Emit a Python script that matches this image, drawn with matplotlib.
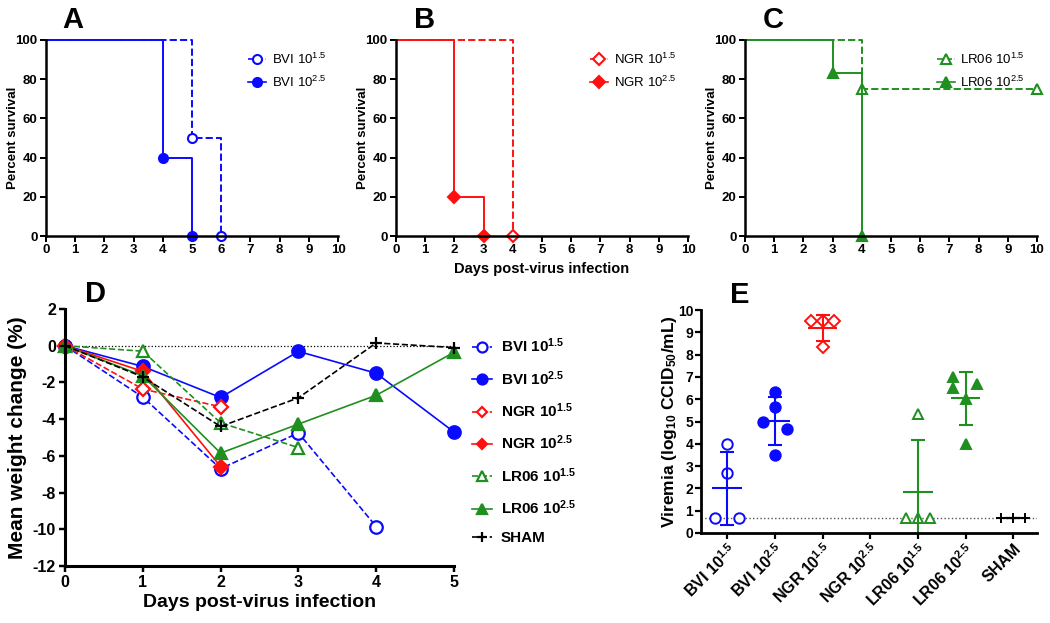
import numpy as np
import matplotlib.pyplot as plt
from matplotlib.lines import Line2D

plt.rcParams['font.family'] = ['Liberation Sans', 'DejaVu Sans']
plt.rcParams['mathtext.fontset'] = 'custom'
plt.rcParams['mathtext.rm'] = 'Liberation Sans'
plt.rcParams['mathtext.bf'] = 'Liberation Sans:bold'
plt.rcParams['mathtext.it'] = 'Liberation Sans:italic'
plt.rcParams['axes.unicode_minus'] = False

BLUE = '#0a0aff'
RED = '#ff1010'
GREEN = '#1f8f1f'

# --- survival curves (A-C): step times and percent survival ---
bvi_lo_t, bvi_lo_s = [0, 5, 6], [100, 50, 0]
bvi_hi_t, bvi_hi_s = [0, 4, 5], [100, 40, 0]
ngr_lo_t, ngr_lo_s = [0, 4], [100, 0]
ngr_hi_t, ngr_hi_s = [0, 2, 3], [100, 20, 0]
lr_lo_t, lr_lo_s = [0, 4, 10], [100, 75, 75]
lr_hi_t, lr_hi_s = [0, 3, 4], [100, 83.3, 0]

# --- weight change (D) ---
w_bvi_lo = [0, -2.8, -6.7, -4.75, -9.85]
w_bvi_hi = [0, -1.13, -2.82, -0.31, -1.5, -4.7]
w_ngr_lo = [0, -2.36, -3.33]
w_ngr_hi = [0, -1.4, -6.58]
w_lr_lo = [0, -0.3, -4.2, -5.55]
w_lr_hi = [0, -1.64, -5.85, -4.27, -2.7, -0.36]
w_sham = [0, -1.7, -4.4, -2.84, 0.15, -0.1]

# --- viremia (E) ---
groups = ['BVI 10$^{\\mathbf{1.5}}$', 'BVI 10$^{\\mathbf{2.5}}$', 'NGR 10$^{\\mathbf{1.5}}$',
          'NGR 10$^{\\mathbf{2.5}}$', 'LR06 10$^{\\mathbf{1.5}}$', 'LR06 10$^{\\mathbf{2.5}}$', 'SHAM']
v_bvi_lo = [4.0, 2.67, 0.67, 0.67]
v_bvi_hi = [6.33, 5.67, 5.0, 4.67, 3.5]
v_ngr_lo = [9.5, 9.5, 9.5, 8.33]
v_ngr_hi = []
v_lr_lo = [5.33, 0.67, 0.67, 0.67]
v_lr_hi = [7.0, 6.5, 6.67, 6.0, 4.0]
v_sham = [0.67, 0.67, 0.67]
detect_limit = 0.67
# horizontal scatter spread of the points inside each column
jitter = [[0, 0, -0.25, 0.25], [0, 0, -0.25, 0.25, 0], [-0.25, 0, 0.25, 0], [],
          [0, -0.25, 0, 0.25], [-0.27, -0.27, 0.25, 0, 0], [-0.25, 0, 0.25]]

W, H = 1050, 623
fig = plt.figure(figsize=(W / 100, H / 100), dpi=100)


def px_axes(l, t, r, b):
    return fig.add_axes([l / W, 1 - b / H, (r - l) / W, (b - t) / H])


def letter(x, y, s):
    # panel letter, x = left edge, y = baseline, in pixels
    fig.text(x / W, 1 - y / H, s, fontsize=21, fontweight='bold', va='baseline', ha='left')


def style(ax, lw=1.8, size=9, pad=2.5):
    for s in ['top', 'right']:
        ax.spines[s].set_visible(False)
    for s in ['left', 'bottom']:
        ax.spines[s].set_linewidth(lw)
    ax.tick_params(direction='out', width=lw * 0.8, length=4, labelsize=size, pad=pad)
    for lab in ax.get_xticklabels() + ax.get_yticklabels():
        lab.set_fontweight('bold')


def survival(ax, curves, xlabel=False):
    handles = []
    for t, s, c, ls, mk, mfc, lab in curves:
        ax.step(t, s, where='post', color=c, ls=ls, lw=1.4, clip_on=False)
        ax.plot(t[1:], s[1:], ls='none', marker=mk, ms=6.5, mfc=mfc, mec=c, mew=1.5, clip_on=False)
        handles.append(Line2D([], [], color=c, ls=ls, lw=1.2, marker=mk, ms=6.5, mfc=mfc, mec=c, mew=1.5, label=lab))
    ax.set_xlim(0, 10)
    ax.set_ylim(0, 100)
    ax.set_xticks(range(0, 11))
    ax.set_yticks(range(0, 101, 20))
    style(ax, lw=1.8, size=9.5, pad=2)
    ax.set_ylabel('Percent survival', fontsize=9.5, fontweight='bold')
    ax.yaxis.set_label_coords(-0.092, 0.5)
    if xlabel:
        ax.set_xlabel('Days post-virus infection', fontsize=10.5, fontweight='bold')
    ax.legend(handles=handles, loc='upper right', bbox_to_anchor=(1.0, 1.0), frameon=False,
              fontsize=9.5, handlelength=1.4, labelspacing=0.55, handletextpad=0.4)


axA = px_axes(46, 40, 338, 236)
survival(axA, [(bvi_lo_t, bvi_lo_s, BLUE, '--', 'o', 'white', 'BVI 10$^{1.5}$'),
               (bvi_hi_t, bvi_hi_s, BLUE, '-', 'o', BLUE, 'BVI 10$^{2.5}$')])
axB = px_axes(396, 40, 688, 236)
survival(axB, [(ngr_lo_t, ngr_lo_s, RED, '--', 'D', 'white', 'NGR 10$^{1.5}$'),
               (ngr_hi_t, ngr_hi_s, RED, '-', 'D', RED, 'NGR 10$^{2.5}$')], xlabel=True)
axC = px_axes(745, 40, 1037, 236)
survival(axC, [(lr_lo_t, lr_lo_s, GREEN, '--', '^', 'white', 'LR06 10$^{1.5}$'),
               (lr_hi_t, lr_hi_s, GREEN, '-', '^', GREEN, 'LR06 10$^{2.5}$')])
letter(62, 28, 'A')
letter(414, 28, 'B')
letter(763, 28, 'C')

# --- D ---
axD = px_axes(65, 309, 454, 566)
axD.axhline(0, color='black', ls=':', lw=0.9)
series = [(w_bvi_lo, BLUE, '--', 'o', 'white', 'BVI 10$^{\\mathbf{1.5}}$'),
          (w_bvi_hi, BLUE, '-', 'o', BLUE, 'BVI 10$^{\\mathbf{2.5}}$'),
          (w_ngr_lo, RED, '--', 'D', 'white', 'NGR 10$^{\\mathbf{1.5}}$'),
          (w_ngr_hi, RED, '-', 'D', RED, 'NGR 10$^{\\mathbf{2.5}}$'),
          (w_lr_lo, GREEN, '--', '^', 'white', 'LR06 10$^{\\mathbf{1.5}}$'),
          (w_lr_hi, GREEN, '-', '^', GREEN, 'LR06 10$^{\\mathbf{2.5}}$'),
          (w_sham, 'black', '--', '+', 'black', 'SHAM')]
for vals, c, ls, mk, mfc, lab in series:
    ms = 7 if mk == 'D' else 9
    axD.plot(range(len(vals)), vals, color=c, ls=ls, lw=1.2, marker=mk, ms=ms,
             mfc=mfc, mec=c, mew=1.6, label=lab, clip_on=False)
axD.set_xlim(0, 5)
axD.set_ylim(-12, 2)
axD.set_yticks(range(-12, 3, 2))
axD.set_xticks(range(0, 6))
style(axD, lw=2.2, size=11.5)
axD.set_ylabel('Mean weight change (%)', fontsize=15, fontweight='bold', labelpad=4)
axD.set_xlabel('Days post-virus infection', fontsize=14, fontweight='bold', labelpad=3)
letter(85, 302, 'D')
axD.legend(loc='upper left', bbox_to_anchor=(458 / W, 1 - 323 / H), bbox_transform=fig.transFigure,
           frameon=False, prop={'size': 11, 'weight': 'bold'}, handlelength=1.3,
           labelspacing=0.9, handletextpad=0.6, markerscale=0.8)

# --- E ---
axE = px_axes(701, 310, 1037, 533)
viremia = [v_bvi_lo, v_bvi_hi, v_ngr_lo, v_ngr_hi, v_lr_lo, v_lr_hi, v_sham]
e_style = [(BLUE, 'o', 'white'), (BLUE, 'o', BLUE), (RED, 'D', 'white'), (RED, 'D', RED),
           (GREEN, '^', 'white'), (GREEN, '^', GREEN), ('black', '+', 'black')]
axE.axhline(detect_limit, color='#555555', ls=':', lw=1.0)
for i, (vals, (c, mk, mfc)) in enumerate(zip(viremia, e_style)):
    if not vals:
        continue
    vals = np.array(vals)
    m = vals.mean()
    sd = vals.std(ddof=1)
    ms = 6.5 if mk == 'D' else 7.5
    axE.plot(i + np.array(jitter[i]), vals, ls='none', marker=mk, ms=ms, mfc=mfc, mec=c, mew=1.4)
    axE.hlines(m, i - 0.31, i + 0.31, color=c, lw=1.5)
    axE.errorbar(i, m, yerr=sd, color=c, lw=1.5, capsize=5, capthick=1.5, fmt='none')
axE.set_xlim(-0.55, 6.5)
axE.set_ylim(0, 10)
axE.set_yticks(range(0, 11))
axE.set_xticks(range(len(groups)))
axE.set_xticklabels(groups, rotation=45, ha='right', rotation_mode='anchor')
style(axE, lw=2.0, size=10, pad=1.5)
for lab in axE.get_xticklabels():
    lab.set_fontsize(11.5)
axE.set_ylabel('Viremia (log$_{\\mathbf{10}}$ CCID$_{\\mathbf{50}}$/mL)', fontsize=12.5, fontweight='bold')
axE.yaxis.set_label_coords(-0.065, 0.5)
letter(730, 303, 'E')

fig.savefig('out.png', dpi=100)
